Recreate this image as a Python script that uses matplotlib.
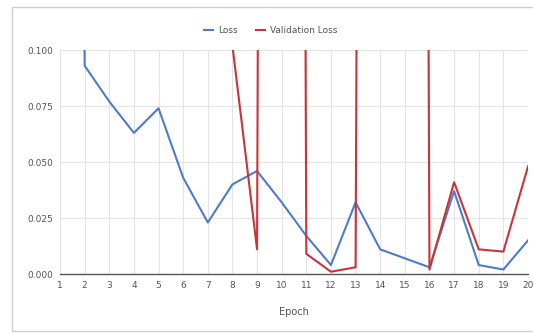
import matplotlib.pyplot as plt
from matplotlib.patches import Rectangle

# training history (values above 0.1 are off the chart window)
epochs = list(range(1, 21))
loss = [2.4, 0.093, 0.077, 0.063, 0.074, 0.043, 0.023, 0.040, 0.046, 0.032,
        0.017, 0.004, 0.032, 0.011, 0.007, 0.003, 0.037, 0.004, 0.002, 0.015]
val_loss = [3.1, 2.9, 2.6, 2.7, 2.5, 2.8, 2.4, 0.102, 0.011, 3.0,
            0.009, 0.001, 0.003, 2.6, 2.7, 0.002, 0.041, 0.011, 0.010, 0.048]
y_ticks = [0.0, 0.025, 0.05, 0.075, 0.1]
y_labels = ["0.000", "0.025", "0.050", "0.075", "0.100"]

BLUE = "#4f7cc8"
RED = "#c8343a"

fig = plt.figure(figsize=(5.33, 3.33), dpi=100)
fig.patches.append(Rectangle((12 / 533, 2 / 333), 530 / 533, 324 / 333,
                             transform=fig.transFigure, fill=False,
                             edgecolor="#cfcfcf", linewidth=1.0))

ax = fig.add_axes([60 / 533, 1 - 274 / 333, 468 / 533, 224 / 333])
ax.plot(epochs, loss, color=BLUE, linewidth=1.5, label="Loss")
ax.plot(epochs, val_loss, color=RED, linewidth=1.5, label="Validation Loss")

ax.set_xlim(1, 20)
ax.set_ylim(0, 0.1)
ax.set_xticks(epochs)
ax.set_yticks(y_ticks)
ax.set_yticklabels(y_labels)
ax.tick_params(axis="both", length=0, labelsize=6.5, colors="#555555", pad=5)
ax.grid(True, color="#e4e4e4", linewidth=0.8)
ax.set_axisbelow(True)
for side in ["top", "right", "left"]:
    ax.spines[side].set_visible(False)
ax.spines["bottom"].set_color("#555555")
ax.spines["bottom"].set_linewidth(1.0)
ax.set_xlabel("Epoch", fontsize=7, color="#555555", labelpad=12)

ax.legend(loc="lower center", bbox_to_anchor=(0.45, 1.03), ncol=2, frameon=False,
          fontsize=6.5, labelcolor="#555555", handlelength=1.0, columnspacing=2.0,
          handletextpad=0.6)

fig.savefig("out.png", dpi=100)
